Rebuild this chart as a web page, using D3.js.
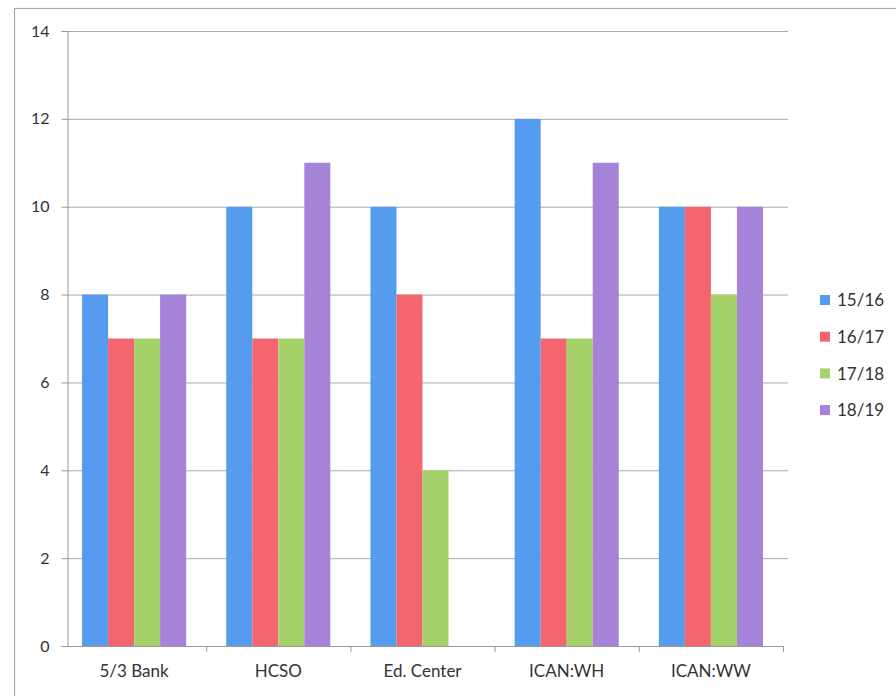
<!DOCTYPE html>
<html>
<head>
<meta charset="utf-8">
<script src="https://cdn.jsdelivr.net/npm/d3@7"></script>
<style>
  html, body { margin: 0; padding: 0; background: #fff; }
  svg { display: block; }
  text { font-family: Lato, "Open Sans", sans-serif; fill: #333; }
</style>
</head>
<body>
<svg id="chart" width="896" height="696"></svg>
<script>
// Categories, series and values
const categories = ["5/3 Bank", "HCSO", "Ed. Center", "ICAN:WH", "ICAN:WW"];
const seriesNames = ["15/16", "16/17", "17/18", "18/19"];
const v1516 = [8, 10, 10, 12, 10];
const v1617 = [7, 7, 8, 7, 10];
const v1718 = [7, 7, 4, 7, 8];
const v1819 = [8, 11, 0, 11, 10];
const yTicks = [0, 2, 4, 6, 8, 10, 12, 14];
const colors = ["#559cef", "#f4666f", "#a6d26b", "#a483d8"];

const seriesValues = [v1516, v1617, v1718, v1819];

const svg = d3.select("#chart");

// outer chart frame
svg.append("rect")
  .attr("x", 14.5).attr("y", 8.5)
  .attr("width", 900).attr("height", 700)
  .attr("fill", "none").attr("stroke", "#aaa").attr("stroke-width", 1.2);

const plot = { left: 67, right: 783, top: 31, bottom: 646 };

const x = d3.scaleBand().domain(categories).range([62, plot.right]).padding(0);
const xs = d3.scaleBand().domain(seriesNames)
  .range([x.bandwidth() * 0.139, x.bandwidth() * 0.861]).padding(0);
const y = d3.scaleLinear().domain([0, 14]).range([plot.bottom, plot.top]);

// gridlines
svg.append("g")
  .selectAll("line").data(yTicks.filter(d => d > 0)).join("line")
  .attr("x1", plot.left).attr("x2", plot.right + 5)
  .attr("y1", d => y(d) + 0.5).attr("y2", d => y(d) + 0.5)
  .attr("stroke", "#a9a9a9").attr("stroke-width", 1);

// bars
const groups = svg.append("g").selectAll("g").data(categories).join("g")
  .attr("transform", d => `translate(${x(d)},0)`);
groups.selectAll("rect")
  .data((c, ci) => seriesNames.map((s, si) => ({ s, si, v: seriesValues[si][ci] })))
  .join("rect")
  .attr("x", d => xs(d.s))
  .attr("width", xs.bandwidth())
  .attr("y", d => y(d.v))
  .attr("height", d => y(0) - y(d.v))
  .attr("fill", d => colors[d.si]);

// y axis
const yAxis = svg.append("g")
  .attr("transform", `translate(${plot.left + 0.5},0)`)
  .call(d3.axisLeft(y).tickValues(yTicks).tickSize(6).tickPadding(12).tickFormat(d3.format("d")));
yAxis.select(".domain").attr("stroke", "#999");
yAxis.selectAll(".tick line").attr("stroke", "#999");
yAxis.selectAll(".tick text").attr("font-size", 16).attr("fill", "#333")
  .attr("font-family", "Lato, sans-serif");

// x axis
const xAxis = svg.append("g")
  .attr("transform", `translate(0,${plot.bottom + 0.5})`)
  .call(d3.axisBottom(x).tickSize(0).tickPadding(18));
xAxis.select(".domain").attr("stroke", "#999").attr("d", `M${plot.left},0H${plot.right}`);
xAxis.selectAll(".tick text").attr("font-size", 17).attr("fill", "#333")
  .attr("font-family", "Lato, sans-serif");
// category boundary ticks
svg.append("g").selectAll("line")
  .data(d3.range(1, categories.length + 1))
  .join("line")
  .attr("x1", i => 62 + i * x.step() + 0.5)
  .attr("x2", i => 62 + i * x.step() + 0.5)
  .attr("y1", plot.bottom).attr("y2", plot.bottom + 6)
  .attr("stroke", "#999");

// legend
const legend = svg.append("g").attr("transform", "translate(820,300)");
const li = legend.selectAll("g").data(seriesNames).join("g")
  .attr("transform", (d, i) => `translate(0,${i * 36.7})`);
li.append("rect").attr("x", 0).attr("y", -5).attr("width", 10).attr("height", 10)
  .attr("fill", (d, i) => colors[i]);
li.append("text").attr("x", 17).attr("y", 0).attr("dy", "0.36em")
  .attr("font-size", 17).text(d => d);
</script>
</body>
</html>
